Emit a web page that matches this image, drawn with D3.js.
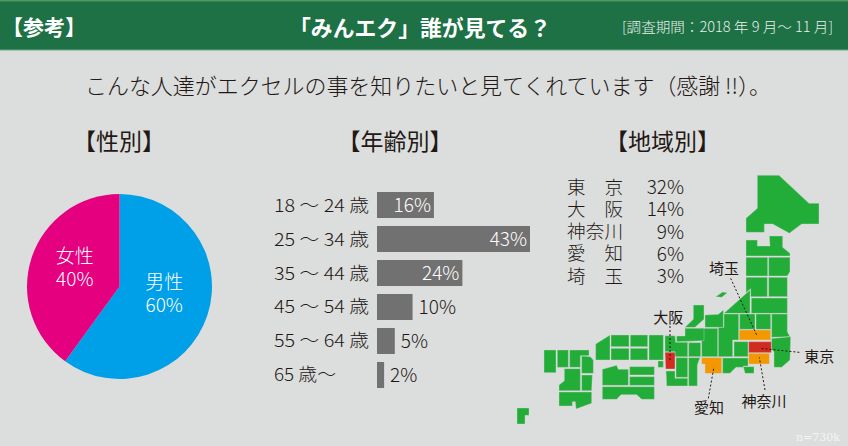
<!DOCTYPE html>
<html>
<head>
<meta charset="utf-8">
<script src="https://cdnjs.cloudflare.com/ajax/libs/d3/7.8.5/d3.min.js"></script>
<style>
  html, body { margin: 0; padding: 0; background: #dcdedd; }
  svg { display: block; }
  text { font-family: "Noto Sans CJK JP", "Noto Sans", sans-serif; fill: #231815; }
</style>
</head>
<body>
<svg id="chart" width="848" height="446"></svg>
<script>
var genderLabels = ['男性', '女性'];
var genderValues = [60, 40];

var ageLabels = ['18 〜 24 歳', '25 〜 34 歳', '35 〜 44 歳', '45 〜 54 歳', '55 〜 64 歳', '65 歳〜'];
var ageValues = [16, 43, 24, 10, 5, 2];

var regionNames = ['東京', '大阪', '神奈川', '愛知', '埼玉'];
var regionValues = [32, 14, 9, 6, 3];

// map outlines, in units of the blank map drawing
var mapGreen = [
  [[652,16],[717,16],[807,100],[837,100],[837,162],[785,162],[748,190],[698,162],[673,162],[673,187],[618,187],[618,145],[652,115]],
  [[618,210],[652,210],[652,228],[690,228],[688,198],[728,198],[728,232],[750,250],[750,258],[618,258]],
  [[618,262],[683,262],[683,318],[618,318]],
  [[686,262],[750,262],[750,305],[742,318],[686,318]],
  [[618,322],[682,322],[682,380],[632,380],[632,356],[618,368]],
  [[686,322],[742,322],[742,380],[686,380]],
  [[634,384],[742,384],[742,430],[634,430]],
  [[552,430],[630,360],[630,430]],
  [[552,432],[596,432],[596,510],[578,510],[578,560],[535,560],[535,472],[552,472]],
  [[599,432],[645,432],[645,478],[599,478]],
  [[648,432],[692,432],[692,478],[648,478]],
  [[695,432],[742,432],[742,485],[750,500],[695,502]],
  [[702,505],[752,500],[750,570],[725,592],[702,592],[702,545],[695,538],[695,505]],
  [[582,515],[624,515],[624,560],[582,560]],
  [[548,564],[624,564],[624,588],[610,588],[610,592],[588,592],[570,610],[548,610]],
  [[610,590],[642,590],[642,610],[615,610]],
  [[485,475],[533,475],[533,560],[485,560]],
  [[495,435],[535,433],[550,420],[550,472],[495,472]],
  [[460,405],[492,405],[492,448],[465,472],[435,472],[460,448]],
  [[435,475],[492,475],[492,512],[410,515],[410,498],[435,498]],
  [[375,497],[405,497],[407,517],[443,517],[443,560],[405,560],[405,545],[375,545]],
  [[446,518],[482,518],[482,560],[446,560]],
  [[408,563],[443,563],[443,622],[408,622]],
  [[446,563],[480,563],[472,585],[472,648],[446,648]],
  [[378,603],[405,603],[405,625],[443,625],[443,648],[380,648]],
  [[354,573],[370,573],[370,592],[354,592]],
  [[327,495],[370,495],[370,570],[327,570]],
  [[213,495],[267,495],[267,530],[213,530]],
  [[213,535],[267,535],[267,570],[213,570]],
  [[271,495],[323,495],[323,530],[271,530]],
  [[271,535],[323,535],[323,570],[271,570]],
  [[167,522],[210,495],[210,570],[167,570]],
  [[187,598],[230,586],[235,598],[265,598],[265,646],[187,646]],
  [[269,590],[343,590],[343,615],[269,615]],
  [[269,620],[343,620],[343,646],[269,646]],
  [[187,650],[343,650],[343,688],[305,688],[290,674],[243,674],[230,688],[187,688]],
  [[12,540],[48,540],[48,608],[12,608]],
  [[52,540],[85,540],[85,592],[52,592]],
  [[89,540],[147,540],[147,557],[121,557],[121,592],[89,592]],
  [[125,558],[151,560],[160,570],[160,610],[125,610]],
  [[125,615],[157,615],[155,662],[125,662]],
  [[73,596],[121,596],[121,662],[57,662],[57,645],[73,632]],
  [[57,666],[155,666],[155,700],[108,717],[106,695],[97,695],[97,708],[57,708]],
  [[527,380],[548,366],[562,368],[545,382]],
  [[-69,714],[-33,714],[-33,736],[-45,736],[-45,762],[-69,762]]
];
var mapOrange = [
  [[598,480],[692,480],[692,510],[598,510]],
  [[626,550],[688,550],[688,582],[626,582]],
  [[485,563],[545,563],[545,610],[495,610],[495,582],[485,582]]
];
var mapRed = [
  [[626,515],[694,515],[694,548],[626,548]],
  [[375,547],[405,547],[405,597],[377,597]]
];
var mapLabels = ['埼玉', '大阪', '東京', '愛知', '神奈川'];
var mapLeaders = [
  [[572,325],[650,495]],
  [[390,468],[390,575]],
  [[778,547],[660,535]],
  [[505,685],[522,590]],
  [[675,660],[658,562]]
];
var mapLabelSpots = [[552,293],[385,440],[838,555],[507,710],[672,690]];

var svg = d3.select('#chart');
var bg = '#dcdedd';

svg.append('rect').attr('width', 848).attr('height', 446).attr('fill', bg);

// header band
svg.append('rect').attr('width', 848).attr('height', 50).attr('fill', '#1d7145');
svg.append('rect').attr('width', 848).attr('height', 1.5).attr('fill', '#4f9a5c');
svg.append('rect').attr('y', 49.5).attr('width', 848).attr('height', 1).attr('fill', '#6fa987');

function label(x, y, str, size, opts){
  opts = opts || {};
  var t = svg.append('text')
    .attr('x', x).attr('y', y - 1.5)
    .attr('dominant-baseline', 'central')
    .attr('text-anchor', opts.anchor || 'middle')
    .attr('font-size', size)
    .attr('font-weight', opts.weight || 300)
    .style('fill', opts.fill || '#231815')
    .text(str);
  if (opts.len) t.attr('textLength', opts.len).attr('lengthAdjust', opts.adjust || 'spacingAndGlyphs');
  return t;
}

label(2, 27, '【参考】', 21, {anchor: 'start', fill: '#fff', weight: 700, len: 84});
label(420, 27, '「みんエク」誰が見てる？', 22, {fill: '#fff', weight: 700, len: 262});
label(622, 27, '[調査期間：2018 年 9 月〜 11 月]', 14, {anchor: 'start', fill: '#e8efe9', len: 211});
label(428, 85, 'こんな人達がエクセルの事を知りたいと見てくれています（感謝 !!）。', 22, {len: 686});

label(119, 141, '【性別】', 23, {weight: 400});
label(395, 141, '【年齢別】', 23, {weight: 400});
label(662.5, 141, '【地域別】', 23, {weight: 400});

// pie
var pieX = 119.5, pieY = 286.5, pieR = 92.5;
var pieColors = d3.scaleOrdinal().domain(genderLabels).range(['#00a0e9', '#e4007f']);
var pie = d3.pie().sort(null)(genderValues);
var arc = d3.arc().innerRadius(0).outerRadius(pieR);
var labelArc = d3.arc().innerRadius(47).outerRadius(47);
var pieG = svg.append('g').attr('transform', 'translate(' + pieX + ',' + pieY + ')');
pieG.selectAll('path').data(pie).enter().append('path')
  .attr('d', arc)
  .attr('fill', function(d, i){ return pieColors(genderLabels[i]); });
pie.forEach(function(d, i){
  var c = labelArc.centroid(d);
  var cy = pieY + c[1] + (i == 0 ? -8 : -4);
  label(pieX + c[0], cy - 11.5, genderLabels[i], 19, {fill: '#fff'});
  label(pieX + c[0], cy + 11.5, genderValues[i] + '%', 19, {fill: '#fff'});
});

// age bars
var xBar = d3.scaleLinear().domain([0, 43]).range([377, 530]);
var yBar = d3.scaleBand().domain(ageLabels).range([188, 392]).paddingInner(0.235).paddingOuter(0.118);
svg.selectAll('rect.bar').data(ageValues).enter().append('rect')
  .attr('class', 'bar')
  .attr('x', xBar(0))
  .attr('y', function(d, i){ return yBar(ageLabels[i]); })
  .attr('width', function(d){ return xBar(d) - xBar(0); })
  .attr('height', yBar.bandwidth())
  .attr('fill', '#727171');
ageValues.forEach(function(v, i){
  var cy = yBar(ageLabels[i]) + yBar.bandwidth() / 2;
  label(274, cy, ageLabels[i], 18, {anchor: 'start', len: i == 5 ? 62 : 95});
  if (v >= 16) label(xBar(v) - 3, cy, v + '%', 19, {anchor: 'end', fill: '#fff'});
  else label(xBar(v) + 6, cy, v + '%', 19, {anchor: 'start'});
});

// prefecture table
var yRegion = d3.scalePoint().domain(regionNames).range([187, 276]);
regionNames.forEach(function(n, i){
  label(567, yRegion(n), n, 18.5, {anchor: 'start', len: 56, adjust: 'spacing'});
  label(684, yRegion(n), regionValues[i] + '%', 19, {anchor: 'end'});
});

// map
var xMap = d3.scaleLinear().domain([0, 924]).range([540, 848]);
var yMap = d3.scaleLinear().domain([0, 828]).range([170, 446]);
var mapLine = d3.line().x(function(p){ return xMap(p[0]); }).y(function(p){ return yMap(p[1]); });

function drawPrefs(list, color){
  svg.append('g').selectAll('path').data(list).enter().append('path')
    .attr('d', function(d){ return mapLine(d) + 'Z'; })
    .attr('fill', color)
    .attr('stroke', '#ced3ce')
    .attr('stroke-width', 0.4);
}
drawPrefs(mapGreen, '#22ac38');
drawPrefs(mapOrange, '#f39800');
drawPrefs(mapRed, '#d12c1f');

svg.append('g').selectAll('path').data(mapLeaders).enter().append('path')
  .attr('d', mapLine)
  .attr('fill', 'none')
  .attr('stroke', '#231815')
  .attr('stroke-width', 1)
  .attr('stroke-dasharray', '2 2');

mapLabels.forEach(function(n, i){
  label(xMap(mapLabelSpots[i][0]), yMap(mapLabelSpots[i][1]) + 1.5, n, 15, {weight: 400});
});

svg.append('text')
  .attr('x', 840).attr('y', 441)
  .attr('text-anchor', 'end')
  .attr('font-size', 11)
  .style('font-family', '"DejaVu Serif", serif')
  .style('fill', '#f4f4f4')
  .text('n=730k');
</script>
</body>
</html>
